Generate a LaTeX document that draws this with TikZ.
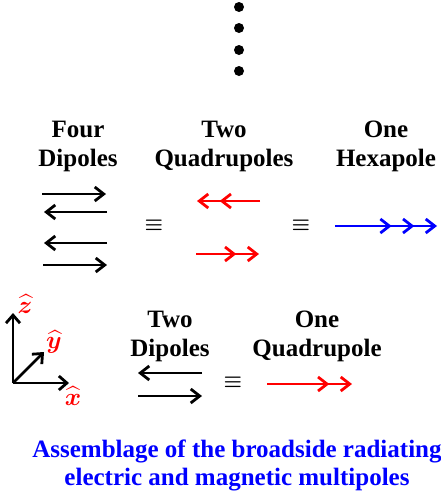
\documentclass[tikz,border=0pt]{standalone}
\usepackage{fontspec}
\setmainfont{Liberation Serif}
\usepackage{amsmath,bm}
\usetikzlibrary{arrows.meta,positioning}
\definecolor{quadcol}{RGB}{255,0,0}
\definecolor{hexcol}{RGB}{0,0,255}

\tikzset{
  barb/.tip={Straight Barb[length=9pt,width=14pt]},
  lbl/.style={font=\fontsize{25}{29}\selectfont\bfseries,align=center,inner sep=0pt},
  eqv/.style={font=\fontsize{22}{26}\selectfont,inner sep=0pt},
  dip/.style={line width=2.8pt,-{barb}},
  quad/.style={line width=2.8pt,quadcol,-{barb[sep=10pt]barb}},
  hexa/.style={line width=2.8pt,hexcol,-{barb[sep=10pt]barb[sep=10pt]barb}},
  axis/.style={line width=2.8pt,-{Straight Barb[length=8pt,width=14pt]}},
  axlbl/.style={quadcol,font=\fontsize{24}{26}\selectfont,inner sep=0pt}
}

\begin{document}
\begin{tikzpicture}[x=1pt,y=-1pt]
  \useasboundingbox (0,0) rectangle (441,498);
  % vertical ellipsis
  \foreach \yy in {7,28,50,71}
    \fill (239,\yy) circle (5pt);
  % labels of the first row
  \node[lbl] (fourdip) at (78,146) {Four\\Dipoles};
  \node[lbl] (twoquad) at (224,146) {Two\\Quadrupoles};
  \node[lbl] (onehex)  at (386,146) {One\\Hexapole};
  % four dipoles
  \coordinate (da1) at (42,194);  \coordinate (db1) at (106,194);
  \coordinate (da2) at (107,212); \coordinate (db2) at (44,212);
  \coordinate (da3) at (107,243); \coordinate (db3) at (44,243);
  \coordinate (da4) at (43,265);  \coordinate (db4) at (107,265);
  \foreach \i in {1,...,4}
    \draw[dip] (da\i) -- (db\i);
  \node[eqv] (eqa) at (154,225) {$\bm{\equiv}$};
  % two quadrupoles
  \coordinate (qa1) at (260,201); \coordinate (qb1) at (197,201);
  \coordinate (qa2) at (196,254); \coordinate (qb2) at (259,254);
  \draw[quad] (qa1) -- (qb1);
  \draw[quad] (qa2) -- (qb2);
  \node[eqv] (eqb) at (301,225) {$\bm{\equiv}$};
  % one hexapole
  \coordinate (ha) at (335,226); \coordinate (hb) at (437,226);
  \draw[hexa] (ha) -- (hb);
  % axes
  \coordinate (o) at (13,383);
  \coordinate (ez) at (13,313);
  \coordinate (ey) at (44,352);
  \coordinate (ex) at (69,383);
  \draw[axis] (o) -- (ez);
  \draw[axis] (o) -- (ey);
  \draw[axis] (o) -- (ex);
  \node[axlbl] (zlbl) at (25,304) {$\widehat{\bm{z}}$};
  \node[axlbl] (ylbl) at (54,342) {$\widehat{\bm{y}}$};
  \node[axlbl] (xlbl) at (73,396) {$\widehat{\bm{x}}$};
  % second row
  \node[lbl] (twodip) at (170,336) {Two\\Dipoles};
  \node[lbl] (onequad) at (317,336) {One\\Quadrupole};
  \coordinate (ta1) at (202,373); \coordinate (tb1) at (138,373);
  \coordinate (ta2) at (138,396); \coordinate (tb2) at (202,396);
  \draw[dip] (ta1) -- (tb1);
  \draw[dip] (ta2) -- (tb2);
  \node[eqv] (eqc) at (233,382) {$\bm{\equiv}$};
  \coordinate (oa) at (267,384); \coordinate (ob) at (352,384);
  \draw[quad] (oa) -- (ob);
  % caption
  \node[lbl,hexcol,font=\fontsize{25}{28}\selectfont\bfseries] (caption) at (237,465)
    {Assemblage of the broadside radiating\\electric and magnetic multipoles};
\end{tikzpicture}
\end{document}
